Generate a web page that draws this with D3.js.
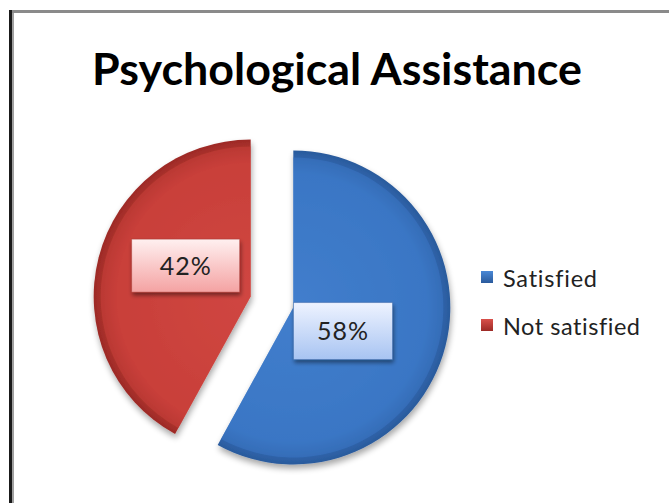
<!DOCTYPE html>
<html>
<head>
<meta charset="utf-8">
<script src="https://cdn.jsdelivr.net/npm/d3@7"></script>
<style>
  html, body { margin: 0; padding: 0; background: #fff; }
  svg { display: block; }
</style>
</head>
<body>
<svg id="chart" width="669" height="503"></svg>
<script>
// ---- data ----
const title = "Psychological Assistance";
const categories = ["Satisfied", "Not satisfied"];
const values = [58, 42];
const labels = ["58%", "42%"];
const baseColors = ["#3b77c5", "#c93f3a"];
const edgeColors = ["#2a5a9c", "#9c2a26"];
const lightColors = ["#4a88d6", "#d9504a"];
const boxTop = ["#eef3ff", "#fff0f0"];
const boxBottom = ["#a8c4f2", "#f4a2a2"];

const W = 669, H = 503;
const svg = d3.select("#chart");
const defs = svg.append("defs");

function fitSpacing(sel, target) {
  const n = sel.text().length;
  const w = sel.node().getComputedTextLength();
  sel.attr("letter-spacing", Math.max(0, (target - w) / (n - 1)));
}

// frame
svg.append("rect").attr("x", 9).attr("y", 10).attr("width", 670).attr("height", 3).attr("fill", "#8a8a8a");
svg.append("rect").attr("x", 9).attr("y", 10).attr("width", 3).attr("height", 500).attr("fill", "#1a1a1a");
svg.append("rect").attr("x", 12).attr("y", 13).attr("width", 2).attr("height", 500).attr("fill", "#a0a0a0");

// title
const t = svg.append("text")
  .attr("x", 337).attr("y", 85)
  .attr("text-anchor", "middle")
  .attr("font-family", "Lato, 'Open Sans', sans-serif")
  .attr("font-weight", "bold")
  .attr("font-size", 40)
  .attr("fill", "#000")
  .text(title);
{
  const w = t.node().getComputedTextLength();
  t.attr("font-size", 40 * 490 / w);
}

// filters
const sh = defs.append("filter").attr("id", "shadow").attr("x", "-20%").attr("y", "-20%").attr("width", "140%").attr("height", "140%");
sh.append("feGaussianBlur").attr("in", "SourceAlpha").attr("stdDeviation", 3);
sh.append("feOffset").attr("dx", 1).attr("dy", 4).attr("result", "ob");
sh.append("feComponentTransfer").append("feFuncA").attr("type", "linear").attr("slope", 0.35);
const m = sh.append("feMerge");
m.append("feMergeNode");
m.append("feMergeNode").attr("in", "SourceGraphic");

const bsh = defs.append("filter").attr("id", "bshadow").attr("x", "-20%").attr("y", "-20%").attr("width", "140%").attr("height", "150%");
bsh.append("feGaussianBlur").attr("in", "SourceAlpha").attr("stdDeviation", 2);
bsh.append("feOffset").attr("dx", 1).attr("dy", 3);
bsh.append("feComponentTransfer").append("feFuncA").attr("type", "linear").attr("slope", 0.45);
const m2 = bsh.append("feMerge");
m2.append("feMergeNode");
m2.append("feMergeNode").attr("in", "SourceGraphic");

// pie
const R = 157;
const cx = 272, cy = 302;
const explode = 22;
const labelDist = [55, 72];
const labelRot = 11 * Math.PI / 180;
const pie = d3.pie().sort(null).value(d => d)(values);
const arc = d3.arc().innerRadius(0).outerRadius(R);
const innerArc = d3.arc().innerRadius(0).outerRadius(R - 7);

const g = svg.append("g").attr("transform", `translate(${cx},${cy})`);

pie.forEach((p, i) => {
  const mid = (p.startAngle + p.endAngle) / 2;
  const dx = Math.sin(mid) * explode, dy = -Math.cos(mid) * explode;
  const gr = defs.append("radialGradient").attr("id", "pg" + i)
    .attr("gradientUnits", "userSpaceOnUse").attr("cx", 0).attr("cy", 0).attr("r", R);
  gr.append("stop").attr("offset", "0%").attr("stop-color", lightColors[i]);
  gr.append("stop").attr("offset", "85%").attr("stop-color", baseColors[i]);
  gr.append("stop").attr("offset", "100%").attr("stop-color", edgeColors[i]);

  const sg = g.append("g").attr("transform", `translate(${dx},${dy})`);
  sg.append("path").attr("d", arc(p)).attr("fill", "url(#pg" + i + ")").attr("filter", "url(#shadow)");
  sg.append("path").attr("d", innerArc(p)).attr("fill", baseColors[i]).attr("opacity", 0.55);

  // label box
  const la = mid + labelRot;
  const lx = dx + Math.sin(la) * labelDist[i];
  const ly = dy - Math.cos(la) * labelDist[i];
  const bw = i === 0 ? 99 : 108, bh = i === 0 ? 57 : 53;
  const lg = defs.append("linearGradient").attr("id", "bg" + i).attr("x1", 0).attr("y1", 0).attr("x2", 0).attr("y2", 1);
  lg.append("stop").attr("offset", "0%").attr("stop-color", boxTop[i]);
  lg.append("stop").attr("offset", "100%").attr("stop-color", boxBottom[i]);
  g.append("rect")
    .attr("x", lx - bw / 2).attr("y", ly - bh / 2)
    .attr("width", bw).attr("height", bh)
    .attr("fill", "url(#bg" + i + ")")
    .attr("stroke", edgeColors[i]).attr("stroke-opacity", 0.4).attr("stroke-width", 1)
    .attr("filter", "url(#bshadow)");
  const tx = g.append("text")
    .attr("x", lx).attr("y", ly + 9)
    .attr("text-anchor", "middle")
    .attr("font-family", "Lato, 'Open Sans', sans-serif")
    .attr("font-size", 25)
    .attr("fill", "#222")
    .text(labels[i]);
  fitSpacing(tx, 51);
});

// legend
const leg = svg.append("g");
const legendWidths = [94, 137];
categories.forEach((c, i) => {
  const y = 271 + i * 48;
  const lg = defs.append("linearGradient").attr("id", "lg" + i).attr("x1", 0).attr("y1", 0).attr("x2", 0).attr("y2", 1);
  lg.append("stop").attr("offset", "0%").attr("stop-color", lightColors[i]);
  lg.append("stop").attr("offset", "100%").attr("stop-color", edgeColors[i]);
  leg.append("rect").attr("x", 481).attr("y", y).attr("width", 12).attr("height", 12)
    .attr("fill", "url(#lg" + i + ")");
  const lt = leg.append("text").attr("x", 503).attr("y", y + 16)
    .attr("font-family", "Lato, 'Open Sans', sans-serif")
    .attr("font-size", 23.5)
    .attr("fill", "#222")
    .text(c);
  fitSpacing(lt, legendWidths[i]);
});
</script>
</body>
</html>
